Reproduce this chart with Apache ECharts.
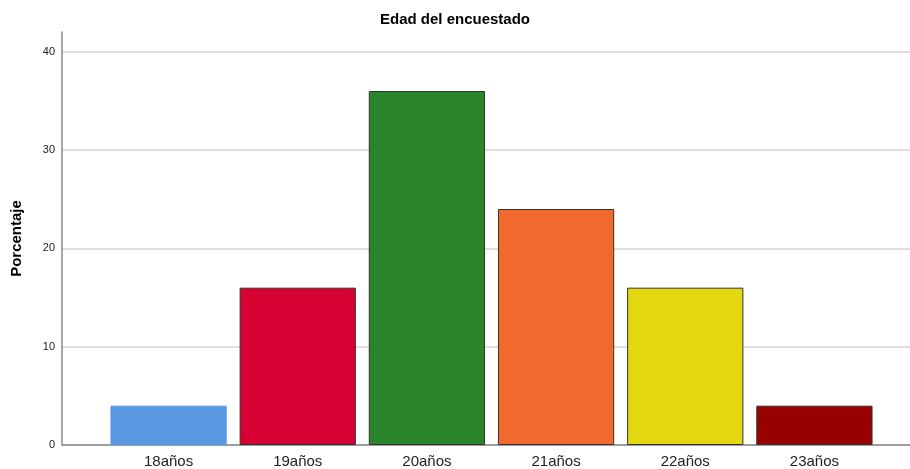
<!DOCTYPE html>
<html><head><meta charset="utf-8">
<script src="https://cdn.jsdelivr.net/npm/echarts@6/dist/echarts.min.js"></script>
<style>html,body{margin:0;padding:0;background:#fff}#c{width:910px;height:469px}</style>
</head><body><div id="c"></div>
<script>
var categories = ['18años','19años','20años','21años','22años','23años'];
var values = [4, 16, 36, 24, 16, 4];
var colors = ['#5899E2','#D60032','#2A852A','#F2692D','#E3D810','#990000'];
var borders = ['#5899E2','#333333','#333333','#333333','#333333','#333333'];
var yTicks = [0, 10, 20, 30, 40];

var chart = echarts.init(document.getElementById('c'), null, {renderer:'canvas'});
chart.setOption({
  animation:false,
  backgroundColor:'#fff',
  title:{text:'Edad del encuestado', left:'center', top:7,
    textStyle:{fontFamily:'Liberation Sans, Arial', fontSize:15, fontWeight:'bold', color:'#000'}},
  grid:[
    {left:62, right:0, top:32, bottom:24},
    {left:104, right:31, top:32, bottom:24}
  ],
  xAxis:[
    {gridIndex:0, type:'category', data:[''], axisLine:{show:true, lineStyle:{color:'#888', width:1.5}},
     axisTick:{show:false}, axisLabel:{show:false}},
    {gridIndex:1, type:'category', data:categories, axisLine:{show:false}, axisTick:{show:false},
     axisLabel:{fontFamily:'Liberation Sans, Arial', fontSize:15, color:'#222', margin:9}}
  ],
  yAxis:[
    {gridIndex:0, type:'value', min:0, max:42, interval:10,
     name:'Porcentaje', nameLocation:'middle', nameGap:38,
     nameTextStyle:{fontFamily:'Liberation Sans, Arial', fontSize:15, fontWeight:'bold', color:'#000'},
     axisLine:{show:true, lineStyle:{color:'#888', width:1.5}}, axisTick:{show:false},
     axisLabel:{fontFamily:'Liberation Sans, Arial', fontSize:11, color:'#222', margin:7,
       formatter:function(v){return yTicks.indexOf(v)>=0 ? String(v) : '';}},
     splitLine:{show:true, showMaxLine:false, lineStyle:{color:'#d4d4d4', width:1.5}}},
    {gridIndex:1, type:'value', min:0, max:42, interval:10, show:false, splitLine:{show:false}}
  ],
  series:[{
    type:'bar', xAxisIndex:1, yAxisIndex:1, barCategoryGap:'10%',
    data: values.map(function(v,i){return {value:v, itemStyle:{color:colors[i], borderColor:borders[i], borderWidth:1}};})
  }]
});
</script></body></html>
